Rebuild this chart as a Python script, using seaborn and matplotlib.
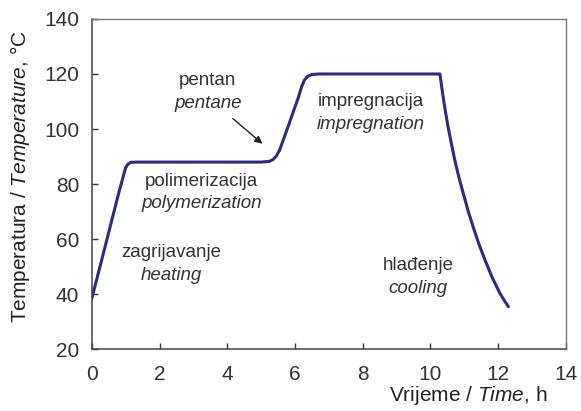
import matplotlib
matplotlib.use("Agg")
import matplotlib.pyplot as plt
import seaborn as sns
import pandas as pd

# time (h) and temperature (degC)
time_h = [0.0, 0.2, 0.5, 0.8, 1.0, 1.07, 1.15, 1.3, 2.0, 3.0, 4.0, 5.0, 5.25, 5.35,
          5.45, 5.55, 5.8, 6.1, 6.2, 6.28, 6.38, 6.5, 6.7, 8.0, 10.28, 10.32,
          10.36, 10.44, 10.52, 10.62, 10.72, 10.84, 10.97, 11.11, 11.26, 11.43,
          11.61, 11.82, 12.05, 12.18, 12.3]
temp_c = [38.5, 48.0, 62.5, 77.0, 86.0, 87.3, 87.9, 88.0, 88.0, 88.0, 88.0, 88.0,
          88.3, 88.9, 90.2, 92.5, 101.0, 111.5, 115.5, 117.8, 119.2, 119.8, 120.0,
          120.0, 120.0, 116.5, 112.9, 106.6, 100.8, 94.6, 88.7, 82.5, 76.6, 70.4,
          64.5, 58.3, 52.5, 46.2, 40.4, 37.8, 35.5]

labels_hr = ["zagrijavanje", "polimerizacija", "pentan", "impregnacija", "hlađenje"]
labels_en = ["heating", "polymerization", "pentane", "impregnation", "cooling"]
label_t = [2.36, 3.25, 3.43, 8.24, 9.63]
label_T = [55.0, 81.1, 117.7, 110.0, 50.3]

x_ticks = [0, 2, 4, 6, 8, 10, 12, 14]
y_ticks = [20, 40, 60, 80, 100, 120, 140]

sns.set_theme(style="ticks")
plt.rcParams["font.family"] = ["Liberation Sans", "DejaVu Sans"]
plt.rcParams["mathtext.fontset"] = "custom"
plt.rcParams["mathtext.rm"] = "Liberation Sans"
plt.rcParams["mathtext.it"] = "Liberation Sans:italic"

df = pd.DataFrame({"t": time_h, "T": temp_c})

fig = plt.figure(figsize=(5.81, 4.11), dpi=100)
ax = fig.add_axes([0.158, 0.150, 0.816, 0.804])

sns.lineplot(data=df, x="t", y="T", ax=ax, color="#2b2a86", linewidth=2.2, sort=False)

ax.set_xlim(0, 14)
ax.set_ylim(20, 140)
ax.set_xticks(x_ticks)
ax.set_yticks(y_ticks)
ax.tick_params(direction="in", length=4, width=1, colors="#333333",
               labelsize=15, pad=9)
ax.tick_params(axis="x", pad=11)
for side in ["left", "bottom"]:
    ax.spines[side].set_color("#444444")
    ax.spines[side].set_linewidth(1.1)
for side in ["top", "right"]:
    ax.spines[side].set_visible(True)
    ax.spines[side].set_color("#777777")
    ax.spines[side].set_linewidth(1.0)

ax.set_xlabel("Vrijeme / $\\mathit{Time}$, h", fontsize=15, color="#222222",
              ha="right", va="center")
ax.xaxis.set_label_coords(0.962, -0.141)
ax.set_ylabel("Temperatura / $\\mathit{Temperature}$, °C", fontsize=15,
              color="#222222", va="center")
ax.yaxis.set_label_coords(-0.152, 0.522)

for hr, en, t, T in zip(labels_hr, labels_en, label_t, label_T):
    ax.text(t, T, hr, fontsize=13.5, color="#333333", ha="center", va="center")
    ax.text(t, T - 8.3, en, fontsize=13.5, color="#333333", ha="center",
            va="center", style="italic")

# arrow pointing at the pentane addition
ax.annotate("", xy=(5.1, 94.0), xytext=(4.1, 104.5),
            arrowprops=dict(arrowstyle="-|>", color="#222222", lw=1.0,
                            mutation_scale=11))

fig.savefig("out.png", dpi=100)
